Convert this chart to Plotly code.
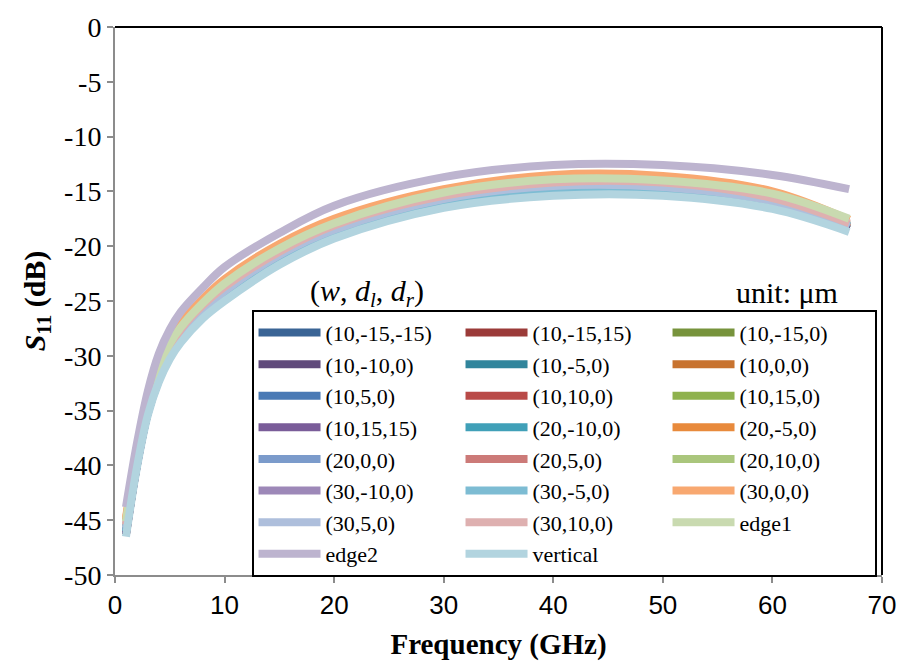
import plotly.graph_objects as go

# Frequency sample points (GHz)
freq = [1, 2, 3, 4, 5, 6, 8, 10, 15, 20, 30, 40, 50, 60, 67]

# S11 (dB) for each (w, dl, dr) configuration
s_10_m15_m15 = [-46.2, -40.0, -35.2, -32.2, -30.0, -28.5, -26.3, -24.7, -21.4, -19.0, -16.2, -15.1, -15.1, -16.4, -18.5]
s_10_m15_15 = [-46.3, -39.9, -35.1, -32.1, -30.0, -28.4, -26.2, -24.6, -21.3, -18.9, -16.2, -15.0, -15.0, -16.3, -18.4]
s_10_m15_0 = [-46.1, -39.8, -35.0, -32.0, -29.9, -28.4, -26.2, -24.5, -21.2, -18.9, -16.1, -14.9, -15.0, -16.2, -18.4]
s_10_m10_0 = [-46.3, -40.0, -35.2, -32.2, -30.1, -28.5, -26.3, -24.7, -21.4, -19.0, -16.2, -15.1, -15.1, -16.3, -18.5]
s_10_m5_0 = [-46.0, -39.8, -35.0, -32.0, -29.9, -28.3, -26.1, -24.5, -21.2, -18.8, -16.1, -14.9, -14.9, -16.2, -18.3]
s_10_0_0 = [-46.0, -39.7, -35.0, -31.9, -29.8, -28.3, -26.1, -24.4, -21.1, -18.8, -16.0, -14.8, -14.9, -16.1, -18.3]
s_10_5_0 = [-45.9, -39.7, -34.9, -31.9, -29.8, -28.2, -26.0, -24.4, -21.1, -18.7, -16.0, -14.8, -14.8, -16.1, -18.2]
s_10_10_0 = [-45.9, -39.6, -34.9, -31.8, -29.7, -28.2, -26.0, -24.3, -21.0, -18.7, -15.9, -14.7, -14.8, -16.0, -18.3]
s_10_15_0 = [-45.8, -39.6, -34.8, -31.8, -29.6, -28.1, -25.9, -24.2, -20.9, -18.6, -15.8, -14.6, -14.7, -16.0, -18.2]
s_10_15_15 = [-46.2, -39.9, -35.1, -32.1, -30.0, -28.4, -26.2, -24.6, -21.3, -18.9, -16.2, -15.0, -15.0, -16.3, -18.4]
s_20_m10_0 = [-46.0, -39.7, -34.9, -31.9, -29.8, -28.3, -26.1, -24.4, -21.1, -18.8, -16.0, -14.8, -14.8, -16.0, -18.2]
s_20_m5_0 = [-45.0, -38.8, -34.1, -31.0, -28.8, -27.2, -25.0, -23.2, -20.0, -17.7, -15.0, -13.7, -13.8, -15.2, -17.6]
s_20_0_0 = [-45.8, -39.6, -34.8, -31.8, -29.6, -28.1, -25.9, -24.2, -20.9, -18.6, -15.8, -14.6, -14.7, -15.9, -18.1]
s_20_5_0 = [-45.6, -39.3, -34.6, -31.5, -29.4, -27.8, -25.6, -23.9, -20.7, -18.3, -15.6, -14.4, -14.4, -15.7, -18.0]
s_20_10_0 = [-45.7, -39.4, -34.7, -31.6, -29.5, -27.9, -25.7, -24.0, -20.8, -18.4, -15.7, -14.5, -14.5, -15.8, -18.1]
s_30_m10_0 = [-45.9, -39.6, -34.9, -31.8, -29.7, -28.2, -26.0, -24.3, -21.0, -18.7, -15.9, -14.7, -14.8, -16.0, -18.2]
s_30_m5_0 = [-46.0, -39.7, -35.0, -31.9, -29.8, -28.3, -26.1, -24.4, -21.1, -18.8, -16.0, -14.8, -14.9, -16.1, -18.2]
s_30_0_0 = [-44.8, -38.6, -33.9, -30.8, -28.6, -27.0, -24.8, -23.0, -19.8, -17.5, -14.8, -13.5, -13.6, -15.0, -17.6]
s_30_5_0 = [-45.7, -39.5, -34.7, -31.7, -29.5, -28.0, -25.8, -24.1, -20.8, -18.5, -15.7, -14.5, -14.6, -15.9, -18.2]
s_30_10_0 = [-45.4, -39.2, -34.4, -31.4, -29.2, -27.6, -25.4, -23.7, -20.5, -18.1, -15.4, -14.2, -14.2, -15.6, -17.9]
s_edge1 = [-45.1, -38.9, -34.2, -31.1, -28.9, -27.4, -25.2, -23.4, -20.2, -17.9, -15.1, -13.9, -14.0, -15.2, -17.5]
s_edge2 = [-43.8, -38.0, -33.2, -29.8, -27.6, -26.0, -23.8, -21.9, -18.8, -16.3, -13.7, -12.6, -12.6, -13.5, -14.8]
s_vertical = [-46.5, -40.2, -35.4, -32.4, -30.3, -28.8, -26.6, -25.0, -21.7, -19.3, -16.5, -15.4, -15.4, -16.6, -18.7]

labels = ["(10,-15,-15)", "(10,-15,15)", "(10,-15,0)",
          "(10,-10,0)", "(10,-5,0)", "(10,0,0)",
          "(10,5,0)", "(10,10,0)", "(10,15,0)",
          "(10,15,15)", "(20,-10,0)", "(20,-5,0)",
          "(20,0,0)", "(20,5,0)", "(20,10,0)",
          "(30,-10,0)", "(30,-5,0)", "(30,0,0)",
          "(30,5,0)", "(30,10,0)", "edge1",
          "edge2", "vertical"]

series = [s_10_m15_m15, s_10_m15_15, s_10_m15_0,
          s_10_m10_0, s_10_m5_0, s_10_0_0,
          s_10_5_0, s_10_10_0, s_10_15_0,
          s_10_15_15, s_20_m10_0, s_20_m5_0,
          s_20_0_0, s_20_5_0, s_20_10_0,
          s_30_m10_0, s_30_m5_0, s_30_0_0,
          s_30_5_0, s_30_10_0, s_edge1,
          s_edge2, s_vertical]

colors = ["#3A6495", "#9B3B39", "#77933C",
          "#604A7B", "#31859C", "#C8732F",
          "#4A7AB5", "#B94A48", "#8FB24E",
          "#7A5C99", "#40A0B8", "#E88A3C",
          "#7B9BCB", "#CC7A78", "#AAC67C",
          "#9D88B8", "#7DBCD3", "#F8A870",
          "#AEBFDC", "#DEB0B0", "#C9DAB0",
          "#BDB4CF", "#B2D4DF"]

# Axis ticks (plain hyphen minus signs)
x_ticks = [0, 10, 20, 30, 40, 50, 60, 70]
x_tick_labels = ["0", "10", "20", "30", "40", "50", "60", "70"]
y_ticks = [0, -5, -10, -15, -20, -25, -30, -35, -40, -45, -50]
y_tick_labels = ["0", "-5", "-10", "-15", "-20", "-25", "-30", "-35", "-40", "-45", "-50"]

SERIF = "Liberation Serif, Times New Roman, serif"
SANS = "Liberation Sans, Arial, sans-serif"

fig = go.Figure()
for name, vals, col in zip(labels, series, colors):
    fig.add_trace(go.Scatter(
        x=freq, y=vals, name=name, mode="lines",
        line=dict(color=col, width=8, shape="spline", smoothing=1.0),
    ))

fig.update_layout(
    width=908, height=667,
    margin=dict(l=115, r=12, t=18, b=92),
    paper_bgcolor="white", plot_bgcolor="white",
    font=dict(family=SERIF, color="black", size=26),
    xaxis=dict(
        range=[0, 70], tickmode="array", tickvals=x_ticks, ticktext=x_tick_labels,
        showgrid=False, zeroline=False,
        showline=True, linecolor="#8C8C8C", linewidth=2,
        ticks="outside", ticklen=6, tickwidth=2, tickcolor="#8C8C8C",
        tickfont=dict(family=SANS, size=26), ticklabeloverflow="allow",
        title=dict(text="<b>Frequency (GHz)</b>", font=dict(family=SERIF, size=29), standoff=14),
    ),
    yaxis=dict(
        range=[-50, 0], tickmode="array", tickvals=y_ticks, ticktext=y_tick_labels,
        showgrid=False, zeroline=False,
        showline=True, linecolor="#8C8C8C", linewidth=2,
        ticks="outside", ticklen=6, tickwidth=2, tickcolor="#8C8C8C",
        tickfont=dict(family=SERIF, size=28),
        title=dict(text="<b><i>S</i><sub>11</sub> (dB)</b>", font=dict(family=SERIF, size=30), standoff=10),
    ),
    legend=dict(
        orientation="h",
        x=0.178, y=0.484, xanchor="left", yanchor="top",
        bgcolor="white", bordercolor="black", borderwidth=2,
        font=dict(family=SERIF, size=22),
        entrywidth=130, entrywidthmode="pixels",
        itemwidth=62, traceorder="normal",
    ),
    showlegend=True,
)

# Black frame along the top and right of the plot area
fig.add_shape(type="line", xref="paper", yref="paper", x0=0, x1=1, y0=1, y1=1,
              line=dict(color="black", width=2))
fig.add_shape(type="line", xref="paper", yref="paper", x0=1, x1=1, y0=0, y1=1,
              line=dict(color="black", width=2))

fig.add_annotation(xref="paper", yref="paper", x=0.328, y=0.515, xanchor="center", yanchor="middle",
                   showarrow=False,
                   text="(<i>w</i>, <i>d</i><sub><i>l</i></sub>, <i>d</i><sub><i>r</i></sub>)",
                   font=dict(family=SERIF, size=30))
fig.add_annotation(xref="paper", yref="paper", x=0.945, y=0.515, xanchor="right", yanchor="middle",
                   showarrow=False, text="unit: μm",
                   font=dict(family=SERIF, size=30))

fig.write_html("out.html")
